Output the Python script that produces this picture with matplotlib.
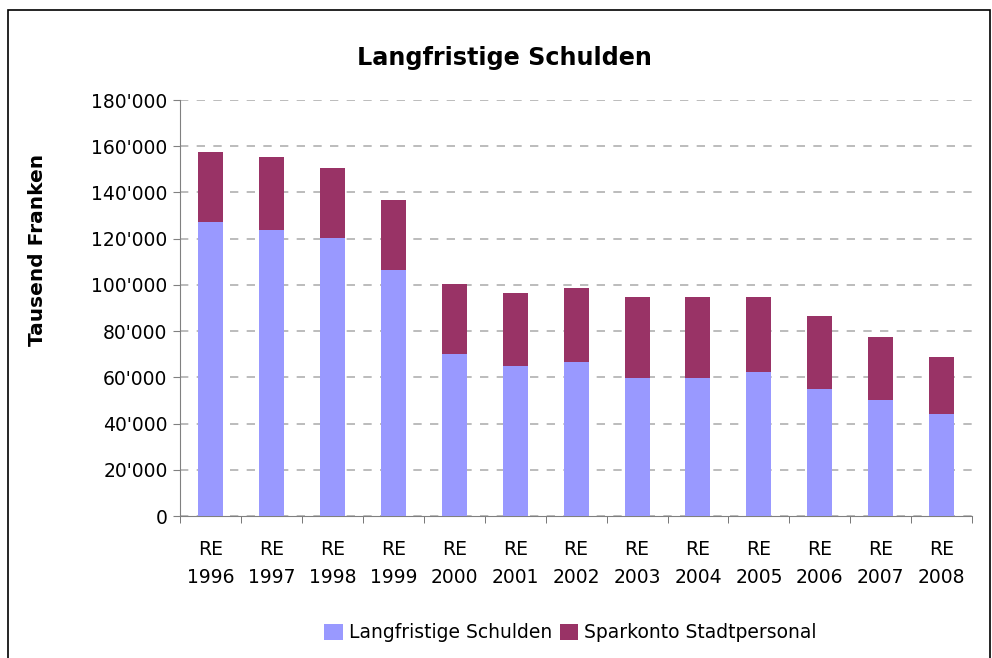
import matplotlib.pyplot as plt
from matplotlib.ticker import FuncFormatter, FixedLocator
from matplotlib.patches import Rectangle
import numpy as np

# Daten (Tausend Franken)
jahre = ['1996', '1997', '1998', '1999', '2000', '2001', '2002',
         '2003', '2004', '2005', '2006', '2007', '2008']
langfristige_schulden = [127200, 123800, 120300, 106400, 70100, 64900, 66600,
                         59700, 59700, 62300, 55000, 50200, 44100]
sparkonto_stadtpersonal = [30300, 31500, 30300, 30300, 30300, 31600, 32100,
                           35100, 35100, 32500, 31500, 27300, 24700]

plt.rcParams['font.family'] = ['DejaVu Sans']

fig = plt.figure(figsize=(9.92, 6.58), dpi=100)
ax = fig.add_axes([0.1815, 0.2158, 0.7985, 0.6322])

x = np.arange(len(jahre))
breite = 0.41
ax.bar(x, langfristige_schulden, breite, color='#9999FF', label='Langfristige Schulden', zorder=3)
ax.bar(x, sparkonto_stadtpersonal, breite, bottom=langfristige_schulden,
       color='#993366', label='Sparkonto Stadtpersonal', zorder=3)

ax.set_xlim(-0.5, len(jahre) - 0.5)
ax.set_ylim(0, 180000)
ax.set_yticks(range(0, 180001, 20000))
ax.yaxis.set_major_formatter(FuncFormatter(lambda v, p: f"{int(v):,}".replace(',', "'")))
ax.yaxis.grid(True, linestyle=(0, (5, 5)), color='#b0b0b0', linewidth=1.2, zorder=0)

ax.set_xticks(x)
ax.set_xticklabels(['RE\n' + j for j in jahre], fontsize=13.5, linespacing=1.6)
ax.tick_params(axis='x', which='major', length=0, pad=17)
ax.xaxis.set_minor_locator(FixedLocator(np.arange(-0.5, len(jahre), 1.0)))
ax.tick_params(axis='x', which='minor', length=5, color='#606060', direction='out')
ax.tick_params(axis='y', labelsize=13.5, length=5, color='#808080', direction='out', pad=4)

for s in ['top', 'right']:
    ax.spines[s].set_visible(False)
ax.spines['left'].set_color('#808080')
ax.spines['bottom'].set_color('#808080')

fig.text(0.509, 0.912, 'Langfristige Schulden', ha='center', va='center',
         fontsize=17.2, fontweight='bold')
fig.text(0.038, 0.62, 'Tausend Franken', ha='center', va='center',
         rotation=90, fontsize=14.5, fontweight='bold')

fig.legend(loc='center', bbox_to_anchor=(0.575, 0.038), ncol=2, frameon=False,
           fontsize=13.5, handlelength=1.0, handleheight=1.0, handletextpad=0.3,
           columnspacing=0.4)

# Rahmen um die Grafik
fig.patches.append(Rectangle((0.008, -0.05), 0.99, 1.035, transform=fig.transFigure,
                             fill=False, edgecolor='black', linewidth=1.2))

plt.savefig('out.png', dpi=100)
